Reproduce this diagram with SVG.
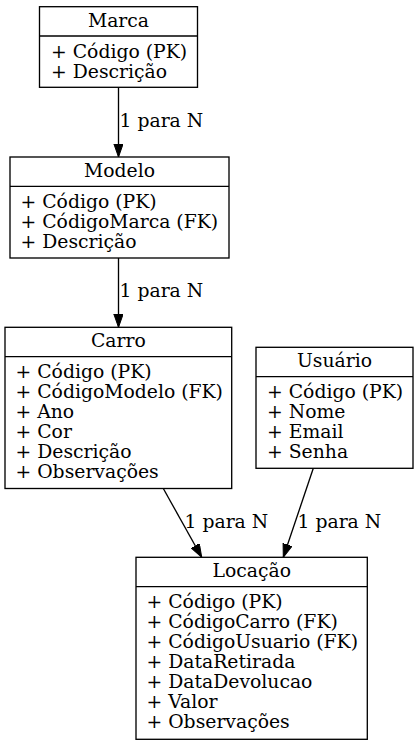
<svg xmlns="http://www.w3.org/2000/svg" width="419" height="745" viewBox="0 0 419 745">
<defs>
<style>
.box{fill:#fff;stroke:#000;stroke-width:1.33}
.div{stroke:#000;stroke-width:1.33}
text{font-family:"DejaVu Serif",serif;font-size:18.8px;fill:#000}
.t{text-anchor:middle}
.edge{stroke:#000;stroke-width:1.33;fill:none}
</style>
<marker id="ah" markerWidth="14" markerHeight="10" refX="13.3" refY="4.7" orient="auto" markerUnits="userSpaceOnUse">
<polygon points="0,0 13.3,4.7 0,9.4" fill="#000" stroke="#000" stroke-width="1"/>
</marker>
</defs>
<rect width="419" height="745" fill="#fff"/>
<g id="edges">
<line class="edge" x1="118.5" y1="87.3" x2="118.5" y2="157" marker-end="url(#ah)"/>
<text x="119.5" y="126.7">1 para N</text>
<line class="edge" x1="118.5" y1="258" x2="118.5" y2="327.3" marker-end="url(#ah)"/>
<text x="119.5" y="297">1 para N</text>
<line class="edge" x1="163.3" y1="488.5" x2="201.7" y2="557.3" marker-end="url(#ah)"/>
<text x="184.5" y="528.3">1 para N</text>
<line class="edge" x1="313.3" y1="468.3" x2="283.3" y2="557.3" marker-end="url(#ah)"/>
<text x="297.5" y="528.3">1 para N</text>
</g>
<g id="marca">
<rect class="box" x="39.5" y="6.7" width="158" height="80.6"/>
<line class="div" x1="39.5" y1="36" x2="197.5" y2="36"/>
<text class="t" x="118.5" y="26.7">Marca</text>
<text x="51" y="57.6">+ Código (PK)</text>
<text x="51" y="77.6">+ Descrição</text>
</g>
<g id="modelo">
<rect class="box" x="10" y="157" width="219" height="101"/>
<line class="div" x1="10" y1="186.4" x2="229" y2="186.4"/>
<text class="t" x="119.5" y="177">Modelo</text>
<text x="20.5" y="208">+ Código (PK)</text>
<text x="20.5" y="228">+ CódigoMarca (FK)</text>
<text x="20.5" y="248">+ Descrição</text>
</g>
<g id="carro">
<rect class="box" x="5" y="327.3" width="226.7" height="161.2"/>
<line class="div" x1="5" y1="356.7" x2="231.7" y2="356.7"/>
<text class="t" x="118.3" y="347.3">Carro</text>
<text x="15.5" y="377.5">+ Código (PK)</text>
<text x="15.5" y="397.7">+ CódigoModelo (FK)</text>
<text x="15.5" y="417.9">+ Ano</text>
<text x="15.5" y="438">+ Cor</text>
<text x="15.5" y="458.2">+ Descrição</text>
<text x="15.5" y="478.3">+ Observações</text>
</g>
<g id="usuario">
<rect class="box" x="256" y="347.3" width="157" height="121"/>
<line class="div" x1="256" y1="376.7" x2="413" y2="376.7"/>
<text class="t" x="334.5" y="367.3">Usuário</text>
<text x="267" y="398.3">+ Código (PK)</text>
<text x="267" y="418.3">+ Nome</text>
<text x="267" y="438.3">+ Email</text>
<text x="267" y="458.3">+ Senha</text>
</g>
<g id="locacao">
<rect class="box" x="136" y="557.3" width="231.3" height="182"/>
<line class="div" x1="136" y1="586.7" x2="367.3" y2="586.7"/>
<text class="t" x="251.7" y="577.3">Locação</text>
<text x="146.5" y="608.3">+ Código (PK)</text>
<text x="146.5" y="628.3">+ CódigoCarro (FK)</text>
<text x="146.5" y="648.3">+ CódigoUsuario (FK)</text>
<text x="146.5" y="668.3">+ DataRetirada</text>
<text x="146.5" y="688.3">+ DataDevolucao</text>
<text x="146.5" y="708.3">+ Valor</text>
<text x="146.5" y="728.3">+ Observações</text>
</g>
</svg>
